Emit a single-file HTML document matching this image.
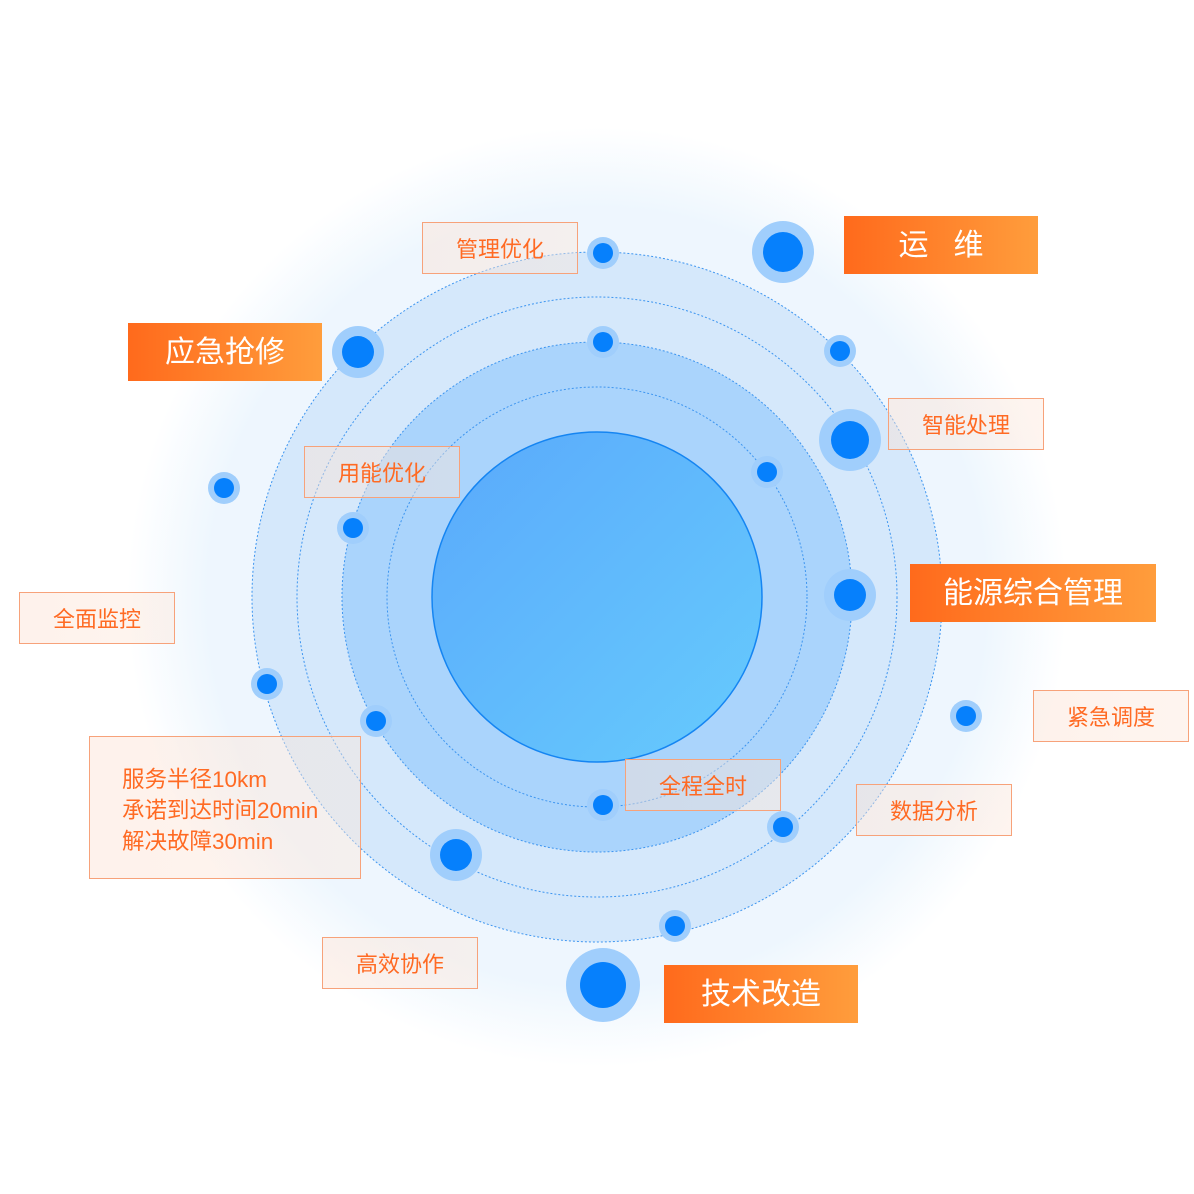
<!DOCTYPE html>
<html><head><meta charset="utf-8"><style>
html,body{margin:0;padding:0;background:#fff}
#c{position:relative;width:1194px;height:1194px;overflow:hidden;font-family:"Liberation Sans","Noto Sans CJK SC",sans-serif}
.s{position:absolute;height:58px;line-height:60px;text-align:center;color:#fff;font-size:30px;background:linear-gradient(90deg,#ff6a1c,#ff9d3c)}
.o{position:absolute;height:50px;line-height:54px;text-align:center;color:#ff6a23;font-size:22px;border:1px solid #f7a27a;background:linear-gradient(90deg,rgba(252,226,212,.45),rgba(252,232,220,.45))}
</style></head><body><div id="c">
<svg width="1194" height="1194" style="position:absolute;left:0;top:0">
<defs>
<radialGradient id="g" cx="597" cy="597" r="470" gradientUnits="userSpaceOnUse">
<stop offset="0.82" stop-color="#edf6fe"/><stop offset="1" stop-color="#ffffff"/></radialGradient>
<linearGradient id="ic" x1="0" y1="0" x2="1" y2="1"><stop offset="0" stop-color="#5aa9fb"/><stop offset="1" stop-color="#66cbfd"/></linearGradient>
</defs>
<circle cx="597" cy="597" r="470" fill="url(#g)"/>
<circle cx="597" cy="597" r="390" fill="#eef6fe"/>
<circle cx="597" cy="597" r="345" fill="#d5e8fb" stroke="#3d95f0" stroke-width="1" stroke-dasharray="2 2"/>
<circle cx="597" cy="597" r="300" fill="none" stroke="#3d95f0" stroke-width="1" stroke-dasharray="2 2"/>
<circle cx="597" cy="597" r="255" fill="#aad4fc" stroke="#3d95f0" stroke-width="1" stroke-dasharray="2 2"/>
<circle cx="597" cy="597" r="210" fill="none" stroke="#3d95f0" stroke-width="1" stroke-dasharray="2 2"/>
<circle cx="597" cy="597" r="165" fill="url(#ic)" stroke="#1585f2" stroke-width="1.5"/>
<g fill="#a0cefc">
<circle cx="783" cy="252" r="31"/><circle cx="358" cy="352" r="26"/><circle cx="850" cy="440" r="31"/>
<circle cx="850" cy="595" r="26"/><circle cx="456" cy="855" r="26"/><circle cx="603" cy="985" r="37"/>
<circle cx="603" cy="253" r="16"/><circle cx="603" cy="342" r="16"/><circle cx="840" cy="351" r="16"/>
<circle cx="767" cy="472" r="16"/><circle cx="224" cy="488" r="16"/><circle cx="353" cy="528" r="16"/>
<circle cx="267" cy="684" r="16"/><circle cx="376" cy="721" r="16"/><circle cx="966" cy="716" r="16"/>
<circle cx="603" cy="805" r="16"/><circle cx="783" cy="827" r="16"/><circle cx="675" cy="926" r="16"/>
</g>
<g fill="#0680fc">
<circle cx="783" cy="252" r="20"/><circle cx="358" cy="352" r="16"/><circle cx="850" cy="440" r="19"/>
<circle cx="850" cy="595" r="16"/><circle cx="456" cy="855" r="16"/><circle cx="603" cy="985" r="23"/>
<circle cx="603" cy="253" r="10"/><circle cx="603" cy="342" r="10"/><circle cx="840" cy="351" r="10"/>
<circle cx="767" cy="472" r="10"/><circle cx="224" cy="488" r="10"/><circle cx="353" cy="528" r="10"/>
<circle cx="267" cy="684" r="10"/><circle cx="376" cy="721" r="10"/><circle cx="966" cy="716" r="10"/>
<circle cx="603" cy="805" r="10"/><circle cx="783" cy="827" r="10"/><circle cx="675" cy="926" r="10"/>
</g>
</svg>
<div class="s" style="left:844px;top:216px;width:194px">运&nbsp;&nbsp;&nbsp;维</div>
<div class="s" style="left:128px;top:323px;width:194px">应急抢修</div>
<div class="s" style="left:910px;top:564px;width:246px">能源综合管理</div>
<div class="s" style="left:664px;top:965px;width:194px">技术改造</div>
<div class="o" style="left:422px;top:222px;width:154px">管理优化</div>
<div class="o" style="left:888px;top:398px;width:154px">智能处理</div>
<div class="o" style="left:304px;top:446px;width:154px">用能优化</div>
<div class="o" style="left:19px;top:592px;width:154px">全面监控</div>
<div class="o" style="left:1033px;top:690px;width:154px">紧急调度</div>
<div class="o" style="left:625px;top:759px;width:154px">全程全时</div>
<div class="o" style="left:856px;top:784px;width:154px">数据分析</div>
<div class="o" style="left:322px;top:937px;width:154px">高效协作</div>
<div class="o" style="left:89px;top:736px;width:272px;height:143px;line-height:31px;text-align:left;box-sizing:border-box;padding:27px 0 0 32px;font-size:22.5px">服务半径10km<br>承诺到达时间20min<br>解决故障30min</div>
</div></body></html>
